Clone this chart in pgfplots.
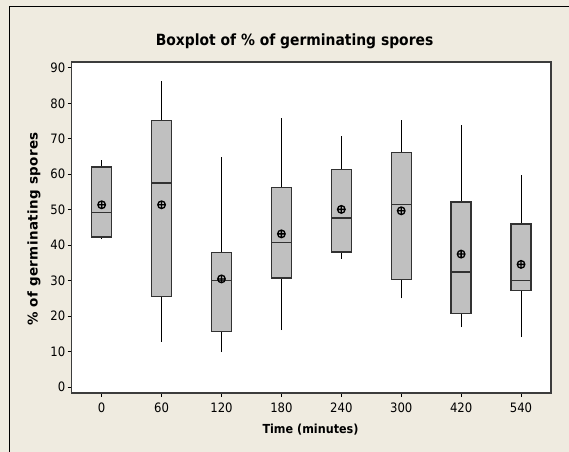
\documentclass[border=0pt]{standalone}
\usepackage{fontspec}
\IfFontExistsTF{DejaVu Sans Condensed}{\setmainfont{DejaVu Sans Condensed}}{\setmainfont{Liberation Sans}}
\newfontfamily\labelfont{DejaVu Sans}[LetterSpace=3]
\usepackage{pgfplots}
\pgfplotsset{compat=1.18}
\usetikzlibrary{plotmarks}
\definecolor{panelbg}{RGB}{239,235,224}
\definecolor{boxfill}{RGB}{192,192,192}
\definecolor{boxedge}{RGB}{50,50,50}
\definecolor{axisedge}{RGB}{60,60,60}

% one box: #1 position, #2 lower whisker, #3 Q1, #4 median, #5 Q3, #6 upper whisker
\newcommand\timebox[6]{%
  \pgfmathsetmacro\bxl{#1-0.1667}%
  \pgfmathsetmacro\bxr{#1+0.1667}%
  \addplot[black, line width=1bp] coordinates {(#1,#2) (#1,#3)};
  \addplot[black, line width=1bp] coordinates {(#1,#5) (#1,#6)};
  \addplot[draw=boxedge, fill=boxfill, line width=1.4bp]
    coordinates {(\bxl,#3) (\bxr,#3) (\bxr,#5) (\bxl,#5)} -- cycle;
  \addplot[boxedge, line width=1.4bp] coordinates {(\bxl,#4) (\bxr,#4)};
}

\begin{document}
\begin{tikzpicture}
  % page and panel
  \useasboundingbox (0,0) rectangle (569bp,-452bp);
  \fill[panelbg] (0,0) rectangle (569bp,-452bp);
  \draw[black, line width=1.5bp] (9.3bp,-460bp) -- (9.3bp,-6.3bp) -- (580bp,-6.3bp);
  \begin{axis}[
    at={(71.7bp,-392.8bp)}, anchor=south west,
    scale only axis, width=479.3bp, height=331bp,
    xmin=-0.5, xmax=7.5, ymin=-1.6, ymax=91.7,
    axis background/.style={fill=white},
    axis line style={axisedge, line width=1.5bp},
    xtick={0,1,2,3,4,5,6,7},
    xticklabels={0,60,120,180,240,300,420,540},
    ytick={0,10,...,90},
    tick align=outside, tick pos=left,
    major tick length=4bp,
    every tick/.style={black, line width=0.8bp},
    ticklabel style={font=\fontsize{13}{15}\selectfont, black},
    /pgf/number format/assume math mode=true,
    yticklabel style={xshift=1bp},
    xticklabel style={yshift=-2.5bp},
  ]
    %        pos  low   Q1    median Q3    high
    \timebox{0}{41.7}{42.3}{49.3}{62.0}{64.0}
    \timebox{1}{12.8}{25.5}{57.5}{75.2}{86.2}
    \timebox{2}{9.9}{15.7}{30.1}{37.9}{64.9}
    \timebox{3}{16.1}{30.8}{40.7}{56.2}{75.9}
    \timebox{4}{36.2}{38.1}{47.7}{61.3}{70.9}
    \timebox{5}{25.0}{30.4}{51.5}{66.2}{75.2}
    \timebox{6}{16.9}{20.8}{32.5}{52.2}{74.0}
    \timebox{7}{14.1}{27.2}{30.1}{46.0}{59.9}
    % means
    \addplot[only marks, mark=oplus, mark size=3.8bp,
      mark options={draw=black, fill=none, line width=1.3bp}]
      coordinates {(0,51.4) (1,51.4) (2,30.5) (3,43.2) (4,50.1) (5,49.7) (6,37.5) (7,34.6)};
  \end{axis}
  % titles
  \node[anchor=base, font=\bfseries\fontsize{15.5}{18}\selectfont] at (294.6bp,-45bp)
    {Boxplot of \% of germinating spores};
  \node[anchor=base, font=\bfseries\fontsize{12.5}{15}\selectfont] at (310.5bp,-433bp)
    {Time (minutes)};
  \node[rotate=90, font=\labelfont\bfseries\fontsize{13.5}{15}\selectfont] at (34bp,-229bp)
    {\% of germinating spores};
\end{tikzpicture}
\end{document}
